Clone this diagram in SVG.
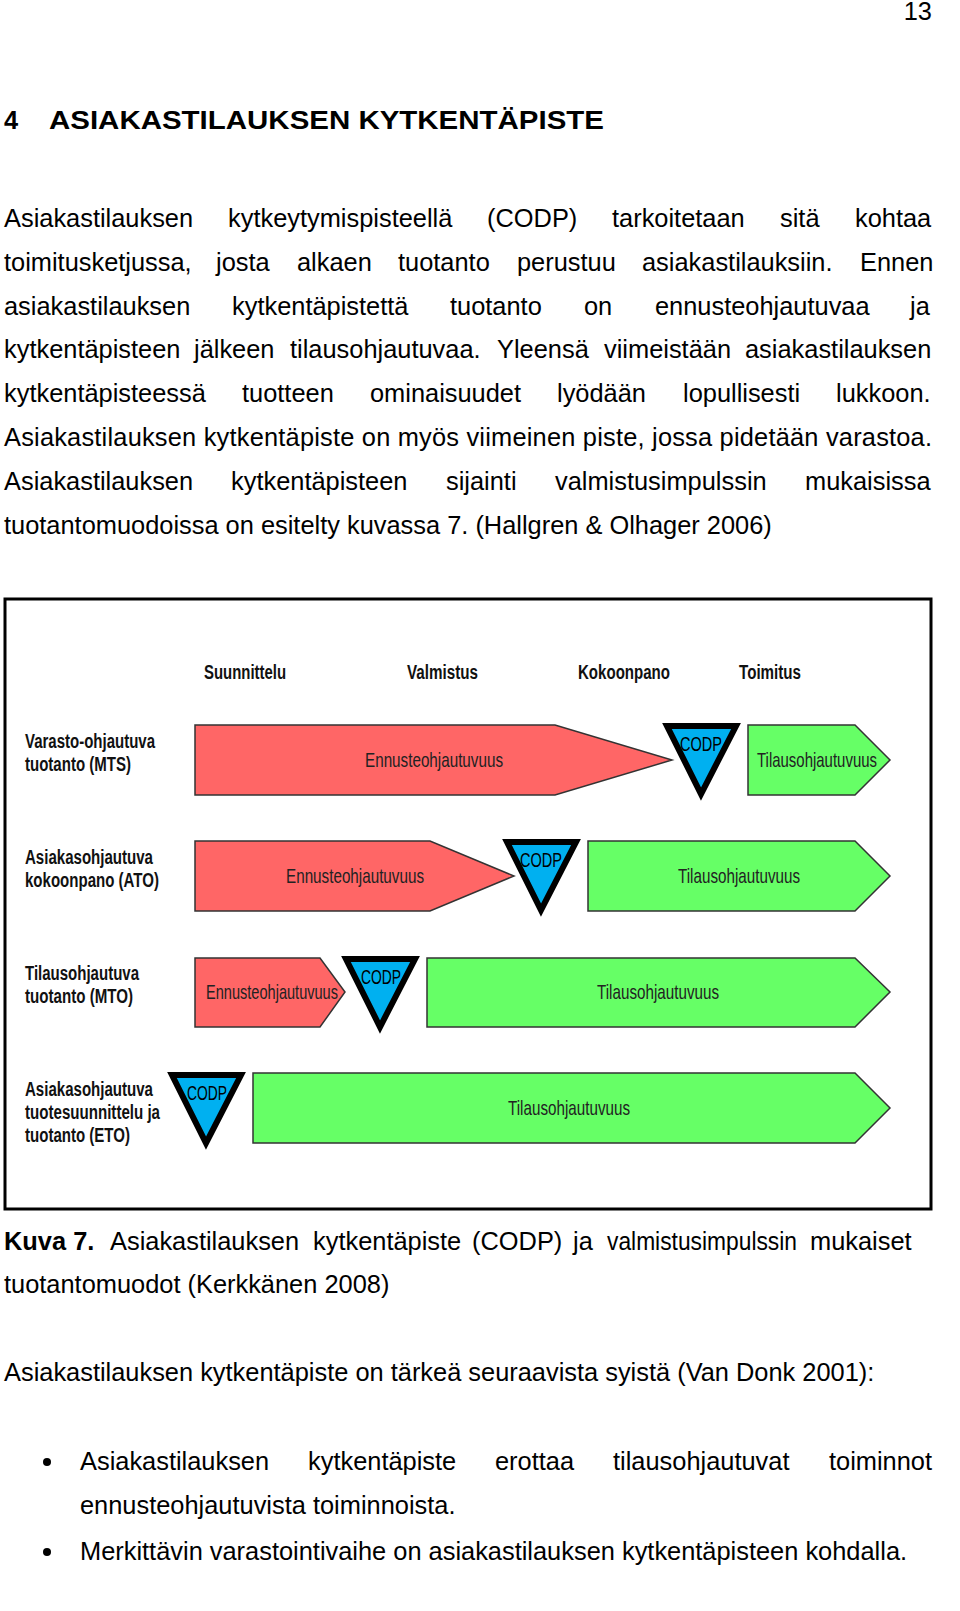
<svg xmlns="http://www.w3.org/2000/svg" width="960" height="1611" viewBox="0 0 960 1611">
<style>
.b{font-family:"Liberation Sans",Arial,sans-serif;font-size:25.4px;fill:#000}
.n{font-family:"Liberation Sans",Arial,sans-serif;font-size:21px;fill:#222}
.nb{font-family:"Liberation Sans",Arial,sans-serif;font-size:20px;font-weight:bold;fill:#111}
.red{fill:#ff6666;stroke:#333;stroke-width:1.5}
.grn{fill:#66ff66;stroke:#333;stroke-width:1.5}
.codp{fill:#00b0f0;stroke:#000;stroke-width:6;stroke-linejoin:miter}
.ct{font-family:"Liberation Sans",Arial,sans-serif;font-size:20px;fill:#000}
</style>
<rect width="960" height="1611" fill="#fff"/>
<text class="b" x="932" y="20" text-anchor="end">13</text>
<text class="b" x="4" y="129" font-weight="bold" font-size="30">4</text>
<text class="b" x="49" y="129" font-weight="bold" font-size="30" textLength="555" lengthAdjust="spacingAndGlyphs">ASIAKASTILAUKSEN KYTKENTÄPISTE</text>
<g class="b">
<text y="227"><tspan x="4">Asiakastilauksen</tspan><tspan x="228">kytkeytymispisteellä</tspan><tspan x="487">(CODP)</tspan><tspan x="612">tarkoitetaan</tspan><tspan x="780">sitä</tspan><tspan x="855">kohtaa</tspan></text>
<text y="271"><tspan x="4">toimitusketjussa,</tspan><tspan x="216">josta</tspan><tspan x="297">alkaen</tspan><tspan x="398">tuotanto</tspan><tspan x="517">perustuu</tspan><tspan x="642">asiakastilauksiin.</tspan><tspan x="860">Ennen</tspan></text>
<text y="315"><tspan x="4">asiakastilauksen</tspan><tspan x="232">kytkentäpistettä</tspan><tspan x="450">tuotanto</tspan><tspan x="584">on</tspan><tspan x="655">ennusteohjautuvaa</tspan><tspan x="910">ja</tspan></text>
<text y="358"><tspan x="4">kytkentäpisteen</tspan><tspan x="194">jälkeen</tspan><tspan x="290">tilausohjautuvaa.</tspan><tspan x="497">Yleensä</tspan><tspan x="604">viimeistään</tspan><tspan x="745">asiakastilauksen</tspan></text>
<text y="402"><tspan x="4">kytkentäpisteessä</tspan><tspan x="242">tuotteen</tspan><tspan x="370">ominaisuudet</tspan><tspan x="557">lyödään</tspan><tspan x="683">lopullisesti</tspan><tspan x="836">lukkoon.</tspan></text>
<text x="4" y="446" textLength="928" lengthAdjust="spacing">Asiakastilauksen kytkentäpiste on myös viimeinen piste, jossa pidetään varastoa.</text>
<text y="490"><tspan x="4">Asiakastilauksen</tspan><tspan x="231">kytkentäpisteen</tspan><tspan x="446">sijainti</tspan><tspan x="555">valmistusimpulssin</tspan><tspan x="805">mukaisissa</tspan></text>
<text x="4" y="534">tuotantomuodoissa on esitelty kuvassa 7. (Hallgren &amp; Olhager 2006)</text>
</g>
<rect x="5" y="599" width="926" height="610" fill="none" stroke="#000" stroke-width="3"/>
<g id="headers" class="nb">
<text x="204" y="679" textLength="82" lengthAdjust="spacingAndGlyphs">Suunnittelu</text>
<text x="407" y="679" textLength="71" lengthAdjust="spacingAndGlyphs">Valmistus</text>
<text x="578" y="679" textLength="92" lengthAdjust="spacingAndGlyphs">Kokoonpano</text>
<text x="739" y="679" textLength="62" lengthAdjust="spacingAndGlyphs">Toimitus</text>
</g>
<g id="labels" class="nb">
<text x="25" y="748" textLength="130" lengthAdjust="spacingAndGlyphs">Varasto-ohjautuva</text>
<text x="25" y="771" textLength="106" lengthAdjust="spacingAndGlyphs">tuotanto (MTS)</text>
<text x="25" y="864" textLength="128" lengthAdjust="spacingAndGlyphs">Asiakasohjautuva</text>
<text x="25" y="887" textLength="134" lengthAdjust="spacingAndGlyphs">kokoonpano (ATO)</text>
<text x="25" y="980" textLength="114" lengthAdjust="spacingAndGlyphs">Tilausohjautuva</text>
<text x="25" y="1003" textLength="108" lengthAdjust="spacingAndGlyphs">tuotanto (MTO)</text>
<text x="25" y="1096" textLength="128" lengthAdjust="spacingAndGlyphs">Asiakasohjautuva</text>
<text x="25" y="1119" textLength="135" lengthAdjust="spacingAndGlyphs">tuotesuunnittelu ja</text>
<text x="25" y="1142" textLength="105" lengthAdjust="spacingAndGlyphs">tuotanto (ETO)</text>
</g>
<g id="row1">
<polygon class="red" points="195,725 555,725 672,760 555,795 195,795"/>
<text class="n" x="434" y="767" text-anchor="middle" textLength="138" lengthAdjust="spacingAndGlyphs">Ennusteohjautuvuus</text>
<polygon class="codp" points="667,726 736,726 701,794"/>
<text class="ct" x="701" y="751" text-anchor="middle" textLength="42" lengthAdjust="spacingAndGlyphs">CODP</text>
<polygon class="grn" points="748,725 855,725 890,760 855,795 748,795"/>
<text class="n" x="817" y="767" text-anchor="middle" textLength="120" lengthAdjust="spacingAndGlyphs">Tilausohjautuvuus</text>
</g>
<g id="row2">
<polygon class="red" points="195,841 430,841 514,876 430,911 195,911"/>
<text class="n" x="355" y="883" text-anchor="middle" textLength="138" lengthAdjust="spacingAndGlyphs">Ennusteohjautuvuus</text>
<polygon class="codp" points="507,842 576,842 541,910"/>
<text class="ct" x="541" y="867" text-anchor="middle" textLength="42" lengthAdjust="spacingAndGlyphs">CODP</text>
<polygon class="grn" points="588,841 855,841 890,876 855,911 588,911"/>
<text class="n" x="739" y="883" text-anchor="middle" textLength="122" lengthAdjust="spacingAndGlyphs">Tilausohjautuvuus</text>
</g>
<g id="row3">
<polygon class="red" points="195,958 320,958 345,992 320,1027 195,1027"/>
<text class="n" x="272" y="999" text-anchor="middle" textLength="132" lengthAdjust="spacingAndGlyphs">Ennusteohjautuvuus</text>
<polygon class="codp" points="346,959 415,959 380,1027"/>
<text class="ct" x="381" y="984" text-anchor="middle" textLength="40" lengthAdjust="spacingAndGlyphs">CODP</text>
<polygon class="grn" points="427,958 855,958 890,992 855,1027 427,1027"/>
<text class="n" x="658" y="999" text-anchor="middle" textLength="122" lengthAdjust="spacingAndGlyphs">Tilausohjautuvuus</text>
</g>
<g id="row4">
<polygon class="codp" points="172,1075 241,1075 206,1143"/>
<text class="ct" x="207" y="1100" text-anchor="middle" textLength="40" lengthAdjust="spacingAndGlyphs">CODP</text>
<polygon class="grn" points="253,1073 855,1073 890,1108 855,1143 253,1143"/>
<text class="n" x="569" y="1115" text-anchor="middle" textLength="122" lengthAdjust="spacingAndGlyphs">Tilausohjautuvuus</text>
</g>
<g class="b">
<text y="1250"><tspan x="4" font-weight="bold">Kuva 7.</tspan><tspan x="110">Asiakastilauksen</tspan><tspan x="313">kytkentäpiste</tspan><tspan x="472">(CODP)</tspan><tspan x="573">ja</tspan><tspan x="607" textLength="190" lengthAdjust="spacingAndGlyphs">valmistusimpulssin</tspan><tspan x="810">mukaiset</tspan></text>
<text x="4" y="1293">tuotantomuodot (Kerkkänen 2008)</text>
<text x="4" y="1381">Asiakastilauksen kytkentäpiste on tärkeä seuraavista syistä (Van Donk 2001):</text>
<circle cx="47" cy="1462" r="4" fill="#000"/>
<text y="1470"><tspan x="80">Asiakastilauksen</tspan><tspan x="308">kytkentäpiste</tspan><tspan x="495">erottaa</tspan><tspan x="613">tilausohjautuvat</tspan><tspan x="829">toiminnot</tspan></text>
<text x="80" y="1514">ennusteohjautuvista toiminnoista.</text>
<circle cx="47" cy="1552" r="4" fill="#000"/>
<text x="80" y="1560">Merkittävin varastointivaihe on asiakastilauksen kytkentäpisteen kohdalla.</text>
</g>
</svg>
